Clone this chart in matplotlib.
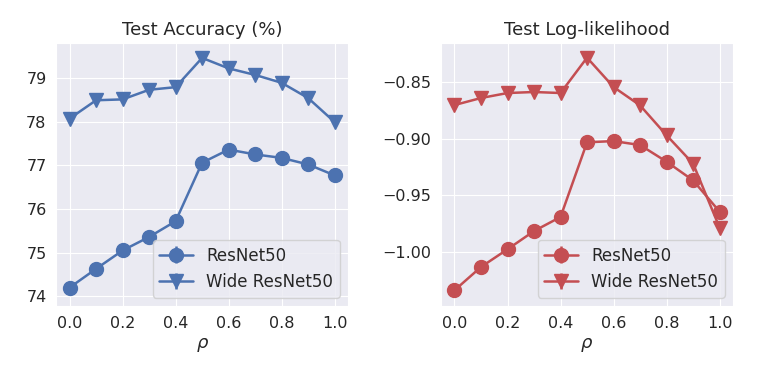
import matplotlib
matplotlib.use("Agg")
import matplotlib.pyplot as plt
import seaborn as sns
import numpy as np

sns.set_style("darkgrid")
plt.rcParams["font.family"] = ["DejaVu Sans"]

rho = [0.0, 0.1, 0.2, 0.3, 0.4, 0.5, 0.6, 0.7, 0.8, 0.9, 1.0]

# test accuracy (%)
acc_resnet = [74.20, 74.63, 75.05, 75.36, 75.72, 77.06, 77.36, 77.25, 77.17, 77.02, 76.77]
acc_wide = [78.07, 78.49, 78.51, 78.73, 78.79, 79.46, 79.22, 79.07, 78.89, 78.54, 77.99]

# test log-likelihood
ll_resnet = [-1.0338, -1.0132, -0.9976, -0.9815, -0.9691, -0.9032, -0.9021, -0.9056, -0.9203, -0.9368, -0.9644]
ll_wide = [-0.8703, -0.8641, -0.8597, -0.8588, -0.8597, -0.8285, -0.8544, -0.8706, -0.8970, -0.9220, -0.9785]

labels = ["ResNet50", "Wide ResNet50"]
titles = ["Test Accuracy (%)", "Test Log-likelihood"]
blue = "#4C72B0"
red = "#C44E52"

fig, axes = plt.subplots(1, 2, figsize=(7.61, 3.81), dpi=100)
fig.subplots_adjust(left=0.074, right=0.963, top=0.887, bottom=0.197, wspace=0.32)

panels = [(acc_resnet, acc_wide, blue, (73.78, 79.8)),
          (ll_resnet, ll_wide, red, (-1.0476, -0.8156))]

for ax, (r, w, c, lim), title in zip(axes, panels, titles):
    zeros = np.zeros(len(rho))
    ax.errorbar(rho, r, yerr=zeros, color=c, marker="o", markersize=10, lw=1.8, label=labels[0])
    ax.errorbar(rho, w, yerr=zeros, color=c, marker="v", markersize=10, lw=1.8, label=labels[1])
    ax.set_title(title, fontsize=13)
    ax.set_xlabel(r"$\rho$", fontsize=13)
    ax.set_ylim(lim)
    ax.set_xticks([0.0, 0.2, 0.4, 0.6, 0.8, 1.0])
    ax.tick_params(labelsize=11.5)
    ax.legend(loc="lower right", fontsize=12)

axes[1].set_yticks([-1.00, -0.95, -0.90, -0.85])
axes[1].set_yticklabels(["\u22121.00", "\u22120.95", "\u22120.90", "\u22120.85"])

fig.savefig("out.png", dpi=100)
